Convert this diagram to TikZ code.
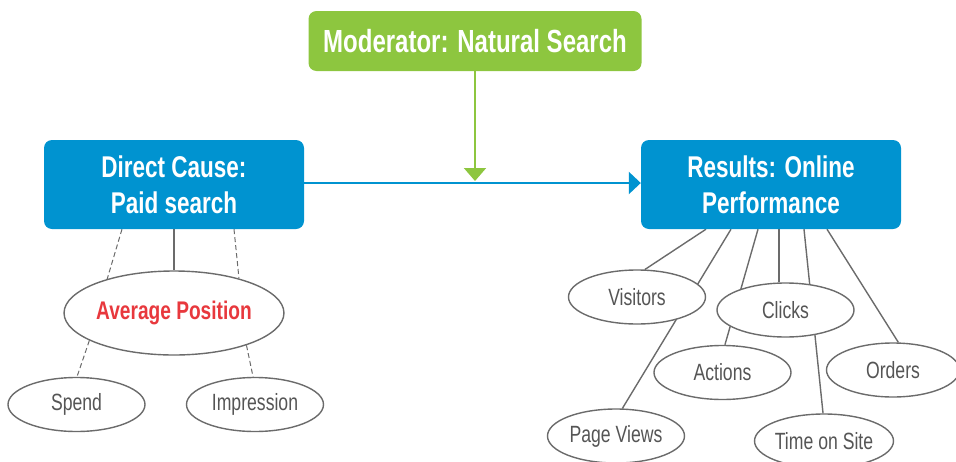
\documentclass[tikz,border=0pt]{standalone}
\usepackage{fontspec}
\setmainfont[FakeStretch=0.75]{Liberation Sans}
\usetikzlibrary{shapes.geometric,arrows.meta}
\pgfdeclarelayer{background}
\pgfsetlayers{background,main}
\definecolor{modgreen}{HTML}{8DC63F}
\definecolor{boxblue}{HTML}{0093D0}
\definecolor{linegray}{HTML}{6B6B6B}
\definecolor{txtgray}{HTML}{555555}
\definecolor{avgred}{HTML}{E8383D}
\tikzset{
  modbox/.style={fill=modgreen, rounded corners=8pt, minimum width=333pt, minimum height=60pt,
    inner sep=0pt, text=white, font=\fontsize{32}{36}\selectfont\bfseries},
  causebox/.style={fill=boxblue, rounded corners=8pt, minimum width=260pt, minimum height=89pt,
    inner sep=0pt, text=white, align=center, font=\fontsize{30}{36}\selectfont\bfseries},
  oval/.style={ellipse, draw=linegray, line width=1.4pt, fill=white, inner sep=0pt,
    minimum width=137pt, minimum height=54pt, text=txtgray, font=\fontsize{23.5}{26}\selectfont},
  bigoval/.style={oval, minimum width=214pt, minimum height=84pt, text=avgred,
    font=\fontsize{25.5}{28}\selectfont\bfseries},
  conn/.style={draw=linegray, line width=1.4pt},
  dconn/.style={conn, line width=1pt, dash pattern=on 5pt off 3pt},
}
\begin{document}
\begin{tikzpicture}[x=1pt,y=-1pt]
\useasboundingbox (0,0) rectangle (956,461);
% boxes
\node[modbox] (mod) at (475,41) {Moderator: Natural Search};
\node[causebox] (dc) at (174,184.5) {Direct Cause:\\Paid search};
\node[causebox] (res) at (771,184.5) {Results: Online\\Performance};
\coordinate (mt) at (475,181);
\draw[boxblue, line width=2.4pt, -{Triangle[width=22pt,length=12pt]}] (dc.east |- 0,183) -- (res.west |- 0,183);
\draw[modgreen, line width=2pt, -{Triangle[width=22pt,length=13pt]}] (mod.south) -- (mt);
% left ovals
\node[bigoval] (avg) at (174,313) {Average Position};
\node[oval] (spend) at (76.5,404.5) {Spend};
\node[oval] (imp) at (255,404.5) {Impression};
% right ovals
\node[oval] (vis) at (637,297) {Visitors};
\node[oval] (clk) at (785.5,310) {Clicks};
\node[oval] (act) at (722.5,372.5) {Actions};
\node[oval, minimum width=133pt] (ord) at (893,370) {Orders};
\node[oval] (pv) at (616,436) {Page Views};
\node[oval] (tos) at (824,441) {Time on Site};
\begin{pgfonlayer}{background}
  \draw[conn] (dc.south) -- (avg.north);
  \draw[dconn] ([xshift=-52pt]dc.south) -- (avg.153);
  \draw[dconn] ([xshift=60pt]dc.south) -- (avg.28);
  \draw[dconn] (avg.198) -- (spend.89);
  \draw[dconn] (avg.336) -- (imp.94);
  \draw[conn] ([xshift=-65pt]res.south) -- (vis.74);
  \draw[conn] ([xshift=-40pt]res.south) -- (pv.77);
  \draw[conn] ([xshift=-13pt]res.south) -- (act.85);
  \draw[conn] ([xshift=8pt]res.south) -- ([xshift=8pt]res.south |- clk.north);
  \draw[conn] ([xshift=33pt]res.south) -- (tos.92);
  \draw[conn] ([xshift=56pt]res.south) -- (ord.79);
\end{pgfonlayer}
\end{tikzpicture}
\end{document}
